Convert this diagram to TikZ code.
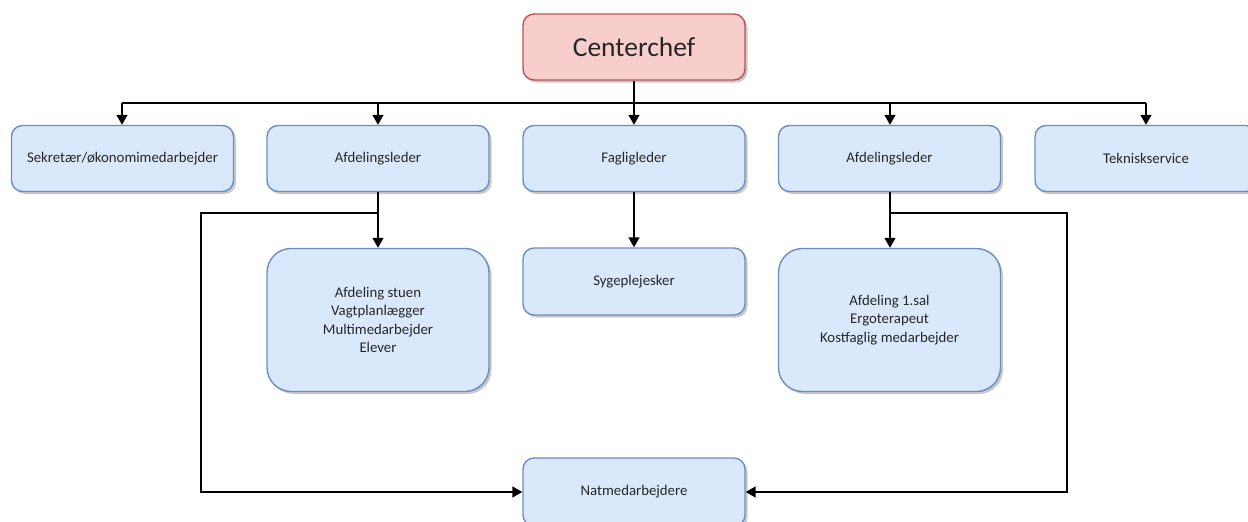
\documentclass[tikz,border=0pt]{standalone}
\usepackage{fontspec}
\setmainfont{Carlito}
\usetikzlibrary{arrows.meta,shadows}
\definecolor{bfill}{HTML}{DAE8FC}
\definecolor{bline}{HTML}{6C8EBF}
\definecolor{rfill}{HTML}{F8CECC}
\definecolor{rline}{HTML}{B85450}
\tikzset{
  box/.style={draw=bline, fill=bfill, line width=1.4pt, rounded corners=11pt,
    minimum width=222pt, minimum height=66pt, align=center, font=\fontsize{14.8}{18.5}\selectfont,
    text=black!85,
    drop shadow={shadow xshift=2.5pt, shadow yshift=-2.5pt, opacity=0.35, fill=black!60}},
  bigbox/.style={box, rounded corners=24pt, minimum height=143pt},
  chef/.style={box, draw=rline, fill=rfill, font=\fontsize{27.5}{32}\selectfont},
  conn/.style={line width=1.6pt, draw=black},
  arr/.style={conn, -{Triangle[length=10pt,width=11pt]}}
}
\begin{document}
\begin{tikzpicture}[x=1pt,y=-1pt]
\clip (0,0) rectangle (1248,522);
\fill[white] (0,0) rectangle (1248,522);
\node[chef] (cc) at (634,47) {Centerchef};
\node[box] (sek) at (122.5,158.5) {Sekretær/økonomimedarbejder};
\node[box] (af1) at (378,158.5) {Afdelingsleder};
\node[box] (fag) at (634,158.5) {Fagligleder};
\node[box] (af2) at (889.5,158.5) {Afdelingsleder};
\node[box] (tek) at (1146,158.5) {Tekniskservice};
\node[bigbox] (st) at (378,320) {Afdeling stuen\\Vagtplanlægger\\Multimedarbejder\\Elever};
\node[box, minimum height=67pt] (syg) at (634,281.5) {Sygeplejesker};
\node[bigbox] (sal) at (889.5,320) {Afdeling 1.sal\\Ergoterapeut\\Kostfaglig medarbejder};
\node[box, minimum height=68pt] (nat) at (634,492) {Natmedarbejdere};
\coordinate (bus) at (634,103);
\coordinate (j1) at (378,213);
\coordinate (j2) at (890,213);
\draw[conn] (cc.south) -- (bus);
\draw[conn] (122,103) -- (1146,103);
\draw[arr] (122,103) -- (sek.north -| 122,0);
\draw[arr] (bus) -- (fag.north);
\draw[arr] (378,103) -- (af1.north);
\draw[arr] (890,103) -- (af2.north -| 890,0);
\draw[arr] (1146,103) -- (tek.north);
\draw[conn] (af1.south) -- (j1);
\draw[arr] (j1) -- (st.north);
\draw[arr] (fag.south) -- (syg.north);
\draw[conn] (af2.south -| 890,0) -- (j2);
\draw[arr] (j2) -- (sal.north -| 890,0);
\draw[arr] (j1) -- (201,213) -- (201,492) -- (nat.west);
\draw[arr] (j2) -- (1067,213) -- (1067,492) -- (nat.east);
\end{tikzpicture}
\end{document}
